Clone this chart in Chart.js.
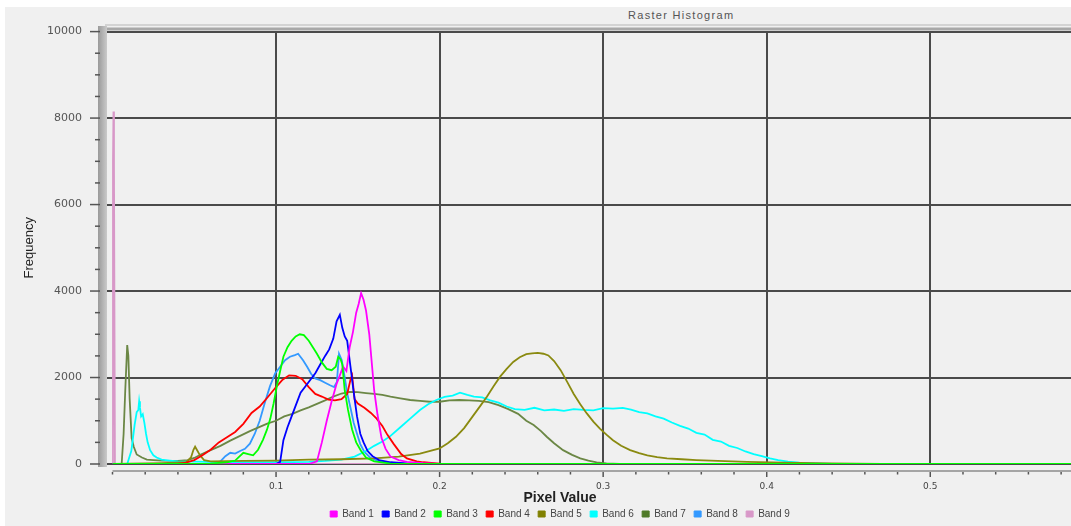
<!DOCTYPE html>
<html>
<head>
<meta charset="utf-8">
<title>Raster Histogram</title>
<script src="https://cdn.jsdelivr.net/npm/chart.js@4.4.1/dist/chart.umd.min.js"></script>
<style>
  html, body { margin: 0; padding: 0; background: #fff; overflow: hidden; }
  #bg { position: absolute; left: 5px; top: 7px; width: 1066px; height: 519px; background: #f0f0f0; }
  #title { position: absolute; left: 628px; top: 9px; font: 11px "Liberation Sans", Arial, sans-serif; letter-spacing: 1.3px; color: #555; }
  #histChart { position: absolute; left: 0; top: 0; }
</style>
</head>
<body>
<div id="bg"></div>
<div id="title">Raster Histogram</div>
<canvas id="histChart" width="1120" height="529"></canvas>
<script>
// pixel value (x) and frequency (y), one pair of arrays per band
const band1X = [0, 0.12, 0.125, 0.128, 0.131, 0.134, 0.137, 0.139, 0.141, 0.143, 0.145, 0.147, 0.149, 0.1505, 0.152, 0.1535, 0.155, 0.157, 0.1585, 0.160, 0.162, 0.1645, 0.167, 0.170, 0.175, 0.18, 0.19, 0.2, 0.62];
const band1Y = [0, 0, 60, 500, 1000, 1450, 1850, 2050, 2250, 2150, 2700, 3050, 3500, 3700, 3950, 3800, 3550, 3000, 2350, 1700, 1150, 600, 350, 170, 90, 50, 20, 0, 0];

const band2X = [0, 0.1, 0.1025, 0.1045, 0.107, 0.109, 0.112, 0.115, 0.118, 0.121, 0.124, 0.127, 0.130, 0.1325, 0.135, 0.137, 0.139, 0.1405, 0.142, 0.1435, 0.1455, 0.1475, 0.1495, 0.1515, 0.1535, 0.156, 0.159, 0.163, 0.17, 0.18, 0.19, 0.62];
const band2Y = [0, 0, 50, 550, 850, 1050, 1350, 1650, 1800, 1950, 2100, 2300, 2500, 2650, 2900, 3300, 3450, 3150, 2950, 2850, 2250, 1650, 1100, 700, 500, 300, 180, 90, 40, 15, 0, 0];

const band3X = [0, 0.06, 0.07, 0.075, 0.08, 0.083, 0.086, 0.089, 0.092, 0.0945, 0.0965, 0.0985, 0.1005, 0.1025, 0.1045, 0.107, 0.1095, 0.112, 0.1145, 0.117, 0.12, 0.1225, 0.125, 0.128, 0.131, 0.134, 0.1365, 0.138, 0.1395, 0.1405, 0.142, 0.144, 0.1465, 0.149, 0.152, 0.155, 0.16, 0.17, 0.62];
const band3Y = [0, 10, 40, 80, 260, 230, 200, 330, 560, 800, 1050, 1400, 1800, 2150, 2480, 2700, 2850, 2950, 3000, 2980, 2850, 2700, 2550, 2350, 2200, 2170, 2250, 2480, 2420, 2300, 1700, 1250, 800, 500, 300, 150, 60, 10, 0];

const band4X = [0, 0.04, 0.045, 0.05, 0.055, 0.06, 0.065, 0.07, 0.075, 0.08, 0.085, 0.09, 0.095, 0.1, 0.104, 0.108, 0.112, 0.116, 0.12, 0.124, 0.128, 0.132, 0.136, 0.14, 0.1435, 0.1455, 0.1465, 0.148, 0.15, 0.154, 0.158, 0.1615, 0.165, 0.168, 0.172, 0.1765, 0.18, 0.186, 0.19, 0.2, 0.21, 0.62];
const band4Y = [0, 0, 30, 90, 200, 330, 500, 620, 740, 930, 1180, 1330, 1550, 1780, 1950, 2050, 2040, 1960, 1780, 1620, 1560, 1490, 1470, 1500, 1620, 1950, 2050, 1500, 1400, 1300, 1180, 1050, 880, 680, 460, 230, 130, 60, 40, 10, 0, 0];

const band5X = [0, 0.03, 0.045, 0.048, 0.0495, 0.0505, 0.052, 0.0535, 0.056, 0.06, 0.08, 0.1, 0.12, 0.14, 0.16, 0.175, 0.188, 0.2, 0.205, 0.21, 0.215, 0.22, 0.225, 0.229, 0.233, 0.237, 0.241, 0.245, 0.249, 0.253, 0.2565, 0.26, 0.2635, 0.2665, 0.27, 0.274, 0.278, 0.282, 0.286, 0.29, 0.294, 0.298, 0.302, 0.306, 0.311, 0.3165, 0.322, 0.327, 0.333, 0.339, 0.348, 0.357, 0.37, 0.388, 0.41, 0.44, 0.47, 0.62];
const band5Y = [0, 20, 40, 150, 330, 400, 300, 200, 90, 60, 70, 80, 100, 110, 130, 170, 240, 360, 480, 630, 830, 1090, 1350, 1560, 1800, 2020, 2200, 2360, 2470, 2540, 2560, 2570, 2550, 2510, 2380, 2170, 1900, 1620, 1380, 1170, 980, 820, 680, 550, 420, 320, 250, 200, 160, 130, 110, 90, 70, 50, 30, 15, 5, 0];

const band6X = [0, 0.009, 0.0115, 0.0135, 0.0148, 0.0158, 0.0163, 0.0168, 0.0175, 0.0185, 0.0195, 0.0205, 0.0215, 0.023, 0.025, 0.027, 0.03, 0.035, 0.04, 0.06, 0.08, 0.1, 0.12, 0.13, 0.14, 0.148, 0.155, 0.16, 0.165, 0.17, 0.176, 0.182, 0.188, 0.193, 0.198, 0.203, 0.208, 0.2125, 0.217, 0.221, 0.226, 0.231, 0.236, 0.241, 0.246, 0.252, 0.258, 0.264, 0.27, 0.276, 0.282, 0.288, 0.294, 0.3, 0.306, 0.312, 0.317, 0.322, 0.327, 0.332, 0.337, 0.342, 0.347, 0.352, 0.357, 0.362, 0.367, 0.372, 0.377, 0.382, 0.387, 0.392, 0.397, 0.402, 0.407, 0.413, 0.42, 0.43, 0.44, 0.62];
const band6Y = [0, 0, 300, 900, 1200, 1250, 1450, 1300, 1100, 1150, 950, 700, 500, 320, 200, 150, 100, 80, 60, 50, 40, 40, 50, 70, 100, 170, 300, 420, 520, 650, 850, 1050, 1250, 1380, 1480, 1550, 1580, 1650, 1600, 1560, 1540, 1470, 1420, 1330, 1270, 1250, 1300, 1240, 1260, 1230, 1270, 1250, 1240, 1290, 1280, 1300, 1260, 1200, 1170, 1100, 1050, 960, 880, 820, 720, 680, 560, 520, 420, 370, 290, 230, 180, 130, 90, 55, 30, 15, 5, 0];

const band7X = [0, 0.0056, 0.0068, 0.0078, 0.009, 0.0097, 0.0105, 0.0117, 0.013, 0.0148, 0.018, 0.021, 0.025, 0.03, 0.04, 0.046, 0.05, 0.054, 0.06, 0.066, 0.072, 0.078, 0.084, 0.09, 0.095, 0.1, 0.105, 0.11, 0.115, 0.12, 0.125, 0.13, 0.135, 0.14, 0.145, 0.15, 0.155, 0.16, 0.165, 0.17, 0.176, 0.182, 0.188, 0.194, 0.2, 0.206, 0.212, 0.218, 0.224, 0.23, 0.236, 0.242, 0.248, 0.253, 0.2575, 0.262, 0.2655, 0.27, 0.2755, 0.281, 0.286, 0.291, 0.296, 0.302, 0.31, 0.62];
const band7Y = [0, 0, 700, 1700, 2750, 2500, 1500, 600, 400, 220, 150, 100, 90, 80, 70, 90, 140, 220, 320, 420, 540, 650, 760, 860, 940, 1000, 1100, 1160, 1240, 1310, 1390, 1470, 1560, 1630, 1670, 1660, 1640, 1620, 1600, 1560, 1520, 1480, 1460, 1440, 1440, 1470, 1480, 1470, 1460, 1430, 1360, 1270, 1160, 1000, 900, 760, 630, 480, 320, 210, 130, 80, 40, 15, 0, 0];

const band8X = [0, 0.055, 0.062, 0.066, 0.069, 0.072, 0.075, 0.078, 0.081, 0.084, 0.087, 0.09, 0.093, 0.0963, 0.0995, 0.1025, 0.1055, 0.1085, 0.1115, 0.1135, 0.1165, 0.119, 0.1215, 0.124, 0.127, 0.130, 0.133, 0.1355, 0.1372, 0.1385, 0.1402, 0.142, 0.1435, 0.1455, 0.1475, 0.1495, 0.1515, 0.154, 0.1575, 0.162, 0.17, 0.18, 0.62];
const band8Y = [0, 0, 20, 60, 180, 260, 240, 300, 350, 470, 700, 1000, 1400, 1800, 2100, 2250, 2400, 2480, 2520, 2550, 2400, 2250, 2080, 1980, 1940, 1880, 1820, 1780, 1900, 2550, 2400, 2000, 1640, 1300, 950, 700, 460, 280, 150, 70, 25, 0, 0];

const band9X = [0, 0.0003, 0.0006, 0.0009, 0.0015, 0.62];
const band9Y = [0, 7000, 8150, 7000, 0, 0];

const bandNames = ['Band 1', 'Band 2', 'Band 3', 'Band 4', 'Band 5', 'Band 6', 'Band 7', 'Band 8', 'Band 9'];
const lineColors = ['#ff00ff', '#0000ff', '#00ff00', '#ff0000', '#8a8a10', '#00ffff', '#6b8745', '#3399ff', '#d898c8'];
const boxColors = ['#ff00ff', '#0000ff', '#00ff00', '#ff0000', '#808000', '#00ffff', '#4f7a28', '#3399ff', '#d898c8'];

const xLabelled = [0.1, 0.2, 0.3, 0.4, 0.5];
const xMajor = [0.1, 0.2, 0.3, 0.4, 0.5, 0.6];
const yMajor = [0, 2000, 4000, 6000, 8000, 10000];
const xTicks = [];
for (let i = 0; i <= 30; i++) xTicks.push(i / 50);
const yTicks = [];
for (let v = 0; v <= 10000; v += 500) yTicks.push(v);

const bandsX = [band1X, band2X, band3X, band4X, band5X, band6X, band7X, band8X, band9X];
const bandsY = [band1Y, band2Y, band3Y, band4Y, band5Y, band6Y, band7Y, band8Y, band9Y];

const near = (list, v) => list.some(m => Math.abs(m - v) < 1e-6);

// axis wall, top edge and tick marks of the old-style histogram frame
const framePlugin = {
    id: 'frame',
    beforeDatasetsDraw(chart) {
        const {ctx, chartArea: a, scales: {x, y}} = chart;
        ctx.save();
        ctx.fillStyle = '#d3d3d3';
        ctx.fillRect(a.left - 2, 24, a.right, 2);
        ctx.fillStyle = '#a8a8a8';
        ctx.fillRect(a.left - 2, 27.5, a.right, 3);
        const g = ctx.createLinearGradient(98, 0, a.left, 0);
        g.addColorStop(0, '#9a9a9a');
        g.addColorStop(1, '#cacaca');
        ctx.fillStyle = g;
        ctx.fillRect(98, 26, a.left - 98, a.bottom + 3 - 26);

        ctx.strokeStyle = '#555';
        ctx.lineWidth = 1.5;
        yTicks.forEach(v => {
            const py = y.getPixelForValue(v);
            const len = yMajor.includes(v) ? 10 : 5;
            ctx.beginPath();
            ctx.moveTo(100 - len, py);
            ctx.lineTo(100, py);
            ctx.stroke();
        });

        const x0 = x.getPixelForValue(0);
        const axisY = a.bottom + 7;
        ctx.strokeStyle = '#8c8c8c';
        ctx.beginPath();
        ctx.moveTo(x0, axisY);
        ctx.lineTo(a.right, axisY);
        ctx.stroke();
        ctx.strokeStyle = '#555';
        xTicks.forEach(v => {
            const px = x.getPixelForValue(v);
            const len = near(xMajor, v) ? 5 : 2.5;
            ctx.beginPath();
            ctx.moveTo(px, axisY + 1);
            ctx.lineTo(px, axisY + 1 + len);
            ctx.stroke();
        });
        ctx.restore();
    }
};

const ctx = document.getElementById('histChart').getContext('2d');

const histChart = new Chart(ctx, {
    type: 'line',
    data: {
        datasets: bandNames.map((name, i) => ({
            label: name,
            data: bandsX[i].map((px, j) => ({x: px, y: bandsY[i][j]})),
            borderColor: lineColors[i],
            backgroundColor: boxColors[i],
            borderWidth: 1.8,
            pointRadius: 0,
            tension: 0,
            fill: false,
            order: i === 2 ? 0 : 1
        }))
    },
    options: {
        responsive: false,
        animation: false,
        devicePixelRatio: 1,
        layout: { padding: { top: 31, left: 0, right: 0, bottom: 0 } },
        scales: {
            x: {
                type: 'linear',
                min: -0.00336,
                max: 0.616,
                afterBuildTicks: axis => { axis.ticks = xTicks.map(v => ({value: v})); },
                afterFit: axis => { axis.height = 26.9; },
                ticks: {
                    autoSkip: false,
                    maxRotation: 0,
                    padding: 17,
                    color: '#444',
                    font: { family: 'DejaVu Sans', size: 9 },
                    callback: v => near(xLabelled, v) ? v.toFixed(1) : ''
                },
                grid: {
                    drawTicks: false,
                    color: c => near(xMajor, c.tick.value) ? '#4a4a4a' : 'rgba(0,0,0,0)',
                    lineWidth: 2
                },
                border: { display: false }
            },
            y: {
                min: 0,
                max: 10000,
                afterBuildTicks: axis => { axis.ticks = yTicks.map(v => ({value: v})); },
                afterFit: axis => { axis.width = 107; },
                ticks: {
                    padding: 25,
                    color: '#555',
                    font: { family: 'DejaVu Sans', size: 11 },
                    callback: v => yMajor.includes(v) ? String(v) : ''
                },
                grid: {
                    drawTicks: false,
                    color: c => yMajor.includes(c.tick.value) ? '#4a4a4a' : 'rgba(0,0,0,0)',
                    lineWidth: 2
                },
                border: { display: false },
                title: {
                    display: true,
                    text: 'Frequency',
                    color: '#222',
                    font: { family: 'Liberation Sans', size: 13 },
                    padding: { top: 22, bottom: 0 }
                }
            }
        },
        plugins: {
            legend: {
                display: true,
                position: 'bottom',
                align: 'center',
                labels: {
                    boxWidth: 7,
                    boxHeight: 6,
                    padding: 8.3,
                    color: '#444',
                    font: { family: 'Liberation Sans', size: 10 },
                    sort: (a, b) => a.datasetIndex - b.datasetIndex,
                    generateLabels: chart => Chart.defaults.plugins.legend.labels.generateLabels(chart)
                        .map(l => ({...l, strokeStyle: l.fillStyle, lineWidth: 1}))
                },
                title: {
                    display: true,
                    text: 'Pixel Value',
                    color: '#222',
                    font: { family: 'Liberation Sans', size: 14, weight: 'bold' },
                    padding: { top: 0, bottom: -7 }
                }
            },
            tooltip: { enabled: false }
        }
    },
    plugins: [framePlugin]
});
</script>
</body>
</html>
